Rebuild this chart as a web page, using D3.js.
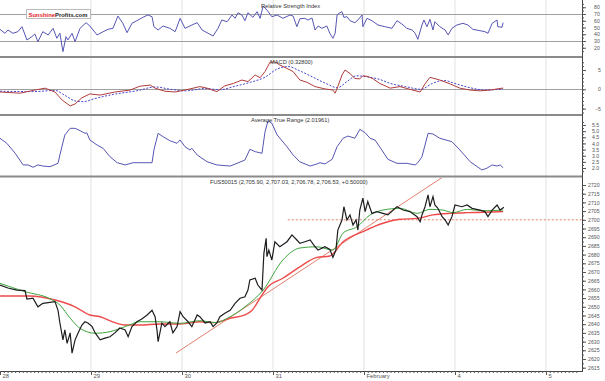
<!DOCTYPE html>
<html><head><meta charset="utf-8">
<script src="https://cdn.jsdelivr.net/npm/d3@7"></script>
<style>html,body{margin:0;padding:0;background:#fff;} svg{display:block;font-family:"Liberation Sans",Arial,sans-serif;}</style>
</head><body><svg id="c" width="605" height="381"></svg>
<script>
// ---------- DATA (time in hours from Jan 28 00:00) ----------
const dayLabels = ["28","29","30","31","February","4","5"];
const rsiTicks = [20,30,40,50,60,70,80];
const rsiLevels = [30,70];
const macdTicks = [-5,0,5];
const atrTicks = [2.0,2.5,3.0,3.5,4.0,4.5,5.0,5.5];
const priceTicks = d3.range(2615, 2721, 5);

const titleRSI = "Relative Strength Index";
const titleMACD = "MACD (0.32800)";
const titleATR = "Average True Range (2.01961)";
const titlePrice = "FUS50015 (2,705.90, 2,707.03, 2,706.78, 2,706.53, +0.50000)";

const price = [[0,2662.5],[2.1,2660.8],[4.5,2659.6],[6.6,2659.3],[7.1,2654.5],[8.7,2655],[10.0,2650],[11.3,2652],[12.7,2652.4],[14.5,2653],[15.3,2648],[15.8,2640.7],[16.6,2631],[17.1,2636.7],[17.7,2629],[18.5,2635],[19.0,2623.4],[19.8,2631],[20.6,2635],[21.6,2639.5],[22.4,2641.4],[23.2,2640.7],[24.3,2638.6],[25.1,2635],[26.4,2631],[27.7,2632],[29.0,2632.8],[30.3,2635],[31.6,2637.8],[33.0,2636.7],[33.8,2632.8],[34.8,2638.6],[36.1,2641.4],[37.4,2643],[38.8,2645.3],[40.1,2648],[40.9,2644.3],[41.4,2636.7],[41.7,2630],[42.7,2640.7],[43.5,2638.6],[44.8,2641.4],[45.6,2635],[46.7,2638.6],[47.5,2647.2],[48.3,2644.3],[49.6,2641.4],[50.6,2638.6],[52.0,2645.3],[52.7,2644.3],[54.1,2640.7],[55.4,2641.4],[56.2,2638.6],[57.2,2640.7],[58.0,2644.3],[59.3,2646.3],[60.7,2648],[62.0,2652],[63.3,2654.9],[64.6,2655.8],[65.4,2659.6],[65.9,2665.4],[67.3,2666.4],[68.0,2662.5],[69.1,2659.6],[69.6,2680.7],[70.2,2689.4],[70.4,2678.8],[70.9,2682.6],[71.7,2676.9],[72.5,2687.4],[73.8,2684.5],[75.7,2687.4],[77.0,2691.3],[78.3,2688.4],[79.1,2686.5],[80.4,2687.4],[81.8,2688.4],[83.1,2684.5],[83.9,2682.6],[85.7,2684.5],[87.0,2683],[87.8,2678.4],[88.6,2682.6],[89.1,2694.1],[90.2,2699.9],[90.7,2707.5],[91.5,2699.9],[92.3,2702.8],[93.1,2697],[93.9,2699.9],[94.4,2694.1],[94.9,2705.6],[95.7,2712.4],[96.3,2704.7],[97.0,2710.5],[98.1,2703.7],[99.4,2704.7],[101.0,2703.7],[102.3,2702.8],[104.7,2707.5],[106.3,2705.6],[108.1,2704.7],[110.0,2701.8],[110.8,2698.9],[111.3,2702.8],[112.1,2707.5],[112.9,2714.3],[113.4,2707.5],[114.2,2713.3],[114.7,2708.5],[115.5,2706.6],[116.6,2701.8],[117.4,2699.9],[118.2,2697],[119.2,2701.8],[120.0,2708.5],[121.8,2707.5],[123.2,2708.5],[124.5,2706.6],[126.6,2705.6],[127.9,2704.7],[128.7,2701.8],[129.8,2705.6],[131.1,2708.5],[131.9,2705.6],[132.9,2707.2]];

const maFast = [[0,2663.5],[6.6,2658.7],[13.2,2654.6],[15.8,2651],[18.5,2643.5],[21.1,2637.6],[25.1,2634.8],[29.0,2635.7],[33.0,2638.6],[36.9,2641.4],[42.2,2641.4],[47.5,2640.5],[52.7,2642],[56.7,2640.9],[60.7,2644.3],[64.6,2650],[69.4,2659.6],[74.6,2676.9],[79.1,2683.8],[83.6,2684.5],[87.8,2682.6],[90.5,2692.4],[94.2,2696],[97.6,2702.8],[101.0,2705.6],[105.5,2706.6],[110.0,2703.7],[113.4,2706],[116.8,2705.6],[119.5,2704.1],[123.2,2706],[127.4,2705.2],[132.7,2705.6]];

const maSlow = [[0,2656.2],[7.9,2656.2],[14.5,2653.9],[19.8,2650],[23.7,2645.3],[26.4,2644.3],[30.3,2640.9],[33.0,2639.5],[36.9,2639.5],[42.2,2640.1],[47.5,2640.1],[52.7,2641.4],[56.7,2640.9],[60.7,2643.4],[64.6,2645.3],[66.5,2648],[68.6,2655],[70.4,2660.8],[74.6,2666.4],[79.1,2673],[83.6,2678.4],[87.0,2679.2],[90.5,2687.4],[95.7,2693.2],[101.0,2698],[105.5,2700.3],[110.0,2700.8],[114.2,2702.8],[118.7,2703.7],[123.2,2704.1],[127.4,2704.3],[132.7,2704.7]];

const trendLine = [[46.4,2623.4],[116.8,2724.6]];
const supportLevel = 2700;
const supportFrom = 75.9;

const rsi = [[0,47.3],[1.3,41.4],[2.1,46.3],[3.4,41.4],[4.7,43.8],[5.8,51.2],[7.1,31.5],[8.4,36.4],[9.2,40.4],[10.0,29],[11.3,43.8],[12.7,38.9],[14.0,48.8],[15.0,34],[15.8,41.4],[16.6,14.2],[17.4,36.4],[17.9,31.5],[19.0,41.4],[19.8,29],[21.1,48.8],[22.7,57.1],[23.7,52.2],[25.6,38.9],[27.2,43.8],[28.5,47.3],[29.8,48.8],[31.1,67],[32.4,56.2],[33.5,42.3],[34.8,56.2],[36.1,60.1],[37.7,65.1],[39.0,68.5],[40.1,66],[40.6,51.2],[41.7,46.3],[43.0,52.2],[44.8,48.8],[46.2,43.8],[47.5,63.6],[48.8,48.8],[50.6,53.7],[52.0,57.1],[53.3,46.3],[54.9,41.4],[56.2,37.4],[57.5,48.8],[58.5,61.1],[59.9,58.6],[61.2,68.5],[62.0,63.6],[62.8,71.9],[63.8,68.5],[64.6,60.1],[65.4,71.9],[66.7,65.1],[67.8,73.4],[68.6,63.6],[69.4,81.9],[70.4,75.9],[71.7,66],[73.1,68.5],[74.6,63.6],[76.5,68.5],[77.3,67],[78.3,51.2],[79.1,63],[80.4,63.6],[81.2,61.1],[82.3,64],[83.1,46.3],[83.9,52.2],[84.9,48.8],[86.2,52.2],[87.0,41.4],[87.8,34],[88.4,41.4],[88.9,68.5],[89.4,71],[90.2,73.4],[90.7,65],[91.5,66],[92.3,60.1],[93.6,57.1],[94.4,61.1],[95.5,68.5],[95.7,51.2],[96.8,63.6],[98.1,60.1],[99.7,53.7],[101.5,51.2],[103.4,48.8],[104.7,60.1],[106.0,55.2],[107.3,48.8],[108.7,46.3],[109.5,41.4],[110.2,32.5],[111.3,53.7],[111.8,61.1],[112.6,51.2],[113.4,62.1],[114.2,46.3],[114.7,58.6],[116.0,51.2],[117.4,46.3],[118.2,38.9],[119.2,48.8],[120.5,53.7],[122.1,56.2],[123.4,53.7],[124.7,47.3],[126.6,45.3],[127.9,43.8],[128.7,41.4],[129.8,56.2],[131.1,61.1],[131.3,51.2],[132.4,50.3],[132.7,57.1]];

const macd = [[0,-0.7],[5.3,-1],[9.2,-0.2],[11.9,0.3],[14.5,-0.7],[16.4,-2.8],[18.5,-4.3],[19.8,-3.8],[21.6,-2.2],[23.7,-1.2],[26.4,-1.5],[30.3,-0.7],[34.3,-0.2],[36.9,0.8],[39.6,1.1],[40.9,0.3],[43.5,-0.5],[46.2,-0.7],[48.8,-0.2],[52.7,0.7],[54.6,0.3],[57.2,-0.6],[59.3,0.9],[61.5,1.5],[63.8,2.4],[65.4,2],[67.3,3.7],[68.6,3],[69.9,4.6],[71.2,7],[72.5,7.1],[73.8,6.3],[75.7,5.4],[77.3,4.6],[79.1,2.4],[81.0,1.8],[83.1,0.7],[85.7,0.1],[87.8,-0.2],[88.4,-1],[89.1,0.7],[90.2,3.7],[91.0,5],[92.3,4.1],[93.6,2.8],[94.9,2.7],[95.7,3.5],[97.1,3.3],[98.4,2.7],[100.2,1.5],[102.9,0.3],[105.5,0.7],[108.1,0],[110.8,-0.7],[112.1,1.4],[113.4,3.1],[116.0,2.4],[118.7,1.4],[121.3,0.3],[124.0,-0.2],[126.6,-0.4],[129.2,-0.2],[132.7,0.33]];

const macdSignal = [[0,-0.5],[9,-0.6],[14.5,-0.3],[17,-1.5],[19.8,-3.0],[22,-3.2],[25,-2.4],[30,-1.3],[36,-0.4],[41,0.6],[45,0],[49,-0.4],[54,0.2],[58,-0.1],[62,0.8],[66,1.8],[70,3.2],[73,5.2],[76,5.9],[79,4.8],[82,3.4],[86,1.5],[89,0.4],[91.5,2.0],[94,3.5],[97,3.2],[100,2.6],[103,1.5],[107,0.7],[111,0.0],[114,1.5],[117,2.3],[120,1.5],[124,0.4],[128,-0.2],[132.7,0.1]];

const atr = [[0,4.42],[1.8,4.01],[4.0,3.2],[6.1,2.25],[7.4,2.25],[8.7,2.06],[10.0,2.25],[11.3,2.16],[13.2,2.11],[15.3,2.38],[15.8,3.06],[17.1,4.69],[18.5,5.23],[19.8,5.23],[21.1,5.04],[22.4,4.82],[22.9,4.87],[23.7,4.28],[25.6,3.87],[27.2,3.6],[29.0,2.92],[30.9,2.43],[33.0,2.25],[35.1,2.43],[37.7,2.43],[40.1,2.43],[40.6,3.47],[41.7,4.82],[43.0,4.55],[44.8,4.22],[46.7,4.01],[47.5,4.28],[48.8,3.73],[50.1,3.47],[50.6,3.6],[52.0,3.06],[54.6,2.51],[57.2,2.25],[60.7,2.16],[62.5,2.38],[64.6,2.65],[65.9,3.52],[67.3,3.33],[69.1,3.2],[69.9,4.95],[70.7,5.85],[71.7,5.64],[73.1,4.69],[75.7,3.73],[77.3,3.06],[79.1,2.5],[81.8,2.16],[83.6,2.33],[84.4,2.43],[85.7,2.33],[87.6,2.71],[88.9,3.73],[90.5,4.42],[91.8,4.6],[93.6,4.42],[94.9,5.15],[96.3,4.87],[97.6,4.42],[98.9,4.28],[100.7,3.47],[102.3,2.71],[104.7,2.38],[107.3,2.38],[109.5,2.25],[110.2,2.43],[111.3,2.92],[112.9,4.82],[114.2,4.77],[116.0,4.42],[119.2,4.14],[121.3,3.47],[124.0,2.51],[127.1,1.84],[128.4,1.98],[129.8,2.25],[131.1,2.16],[131.9,2.25],[132.7,2.02]];

// ---------- LAYOUT ----------
const W = 605, H = 381, plotR = 582;
const panels = {
  rsi:  {top:0,   bot:57},
  macd: {top:57,  bot:115},
  atr:  {top:115, bot:176},
  main: {top:177, bot:371}
};
const svg = d3.select("#c");
const x = d3.scaleLinear().domain([0,153.5]).range([0,plotR]);
const yRsi = d3.scaleLinear().domain([30,70]).range([41,14]);
const yMacd = d3.scaleLinear().domain([-5,5]).range([108.6,70]);
const yAtr = d3.scaleLinear().domain([2.0,5.5]).range([168,125]);
const yMain = d3.scaleLinear().domain([2615,2720]).range([367.7,185]);

// clip paths
const defs = svg.append("defs");
Object.entries(panels).forEach(([k,p])=>{
  defs.append("clipPath").attr("id","clip-"+k).append("rect")
    .attr("x",0).attr("y",p.top+1).attr("width",plotR).attr("height",p.bot-p.top-1);
});

// vertical grid
const dayTicks = dayLabels.map((d,i)=>i*24);
svg.append("g").selectAll("line").data(dayTicks.filter(d=>d>0)).join("line")
  .attr("x1",d=>x(d)).attr("x2",d=>x(d)).attr("y1",0).attr("y2",panels.main.bot)
  .attr("stroke","#e2e2e2").attr("stroke-width",1);

// RSI levels, MACD zero
svg.append("g").selectAll("line").data(rsiLevels).join("line")
  .attr("x1",0).attr("x2",plotR).attr("y1",d=>Math.round(yRsi(d))+0.5).attr("y2",d=>Math.round(yRsi(d))+0.5)
  .attr("stroke","#a0a0a0");
svg.append("line").attr("x1",0).attr("x2",plotR).attr("y1",Math.round(yMacd(0))+0.5).attr("y2",Math.round(yMacd(0))+0.5)
  .attr("stroke","#a0a0a0");

// panel separators
svg.append("g").selectAll("line").data([57,115,176.5]).join("line")
  .attr("x1",0).attr("x2",plotR).attr("y1",d=>d).attr("y2",d=>d)
  .attr("stroke","#8a8a8a").attr("stroke-width",2);

const line = (ys)=>d3.line().x(d=>x(d[0])).y(d=>ys(d[1]));

// RSI
svg.append("path").datum(rsi).attr("clip-path","url(#clip-rsi)")
  .attr("d",line(yRsi)).attr("fill","none").attr("stroke","#5656b4").attr("stroke-width",1);

// MACD
svg.append("path").datum(macdSignal).attr("clip-path","url(#clip-macd)")
  .attr("d",line(yMacd).curve(d3.curveMonotoneX)).attr("fill","none").attr("stroke","#4646d2").attr("stroke-width",1).attr("stroke-dasharray","2,1.5");
svg.append("path").datum(macd).attr("clip-path","url(#clip-macd)")
  .attr("d",line(yMacd)).attr("fill","none").attr("stroke","#b23c3c").attr("stroke-width",1);

// ATR
svg.append("path").datum(atr).attr("clip-path","url(#clip-atr)")
  .attr("d",line(yAtr)).attr("fill","none").attr("stroke","#5656b4").attr("stroke-width",1);

// Main
const gm = svg.append("g").attr("clip-path","url(#clip-main)");
gm.append("line").attr("x1",x(supportFrom)).attr("x2",plotR)
  .attr("y1",yMain(supportLevel)).attr("y2",yMain(supportLevel))
  .attr("stroke","#e0806c").attr("stroke-width",1).attr("stroke-dasharray","2,2");
gm.append("path").datum(trendLine).attr("d",line(yMain)).attr("fill","none").attr("stroke","#e2806e").attr("stroke-width",1);
gm.append("path").datum(maSlow).attr("d",line(yMain).curve(d3.curveMonotoneX)).attr("fill","none").attr("stroke","#ee4a4a").attr("stroke-width",1.4);
gm.append("path").datum(maFast).attr("d",line(yMain).curve(d3.curveMonotoneX)).attr("fill","none").attr("stroke","#3ea53e").attr("stroke-width",1);
gm.append("path").datum(price).attr("d",line(yMain)).attr("fill","none").attr("stroke","#1e1e1e").attr("stroke-width",1.2);

// Right axes
const axisCol = "#555";
svg.append("line").attr("x1",plotR+0.5).attr("x2",plotR+0.5).attr("y1",0).attr("y2",panels.main.bot).attr("stroke","#444");
function rightAxis(scale, major, minor, fmt, pad, anchor){
  const g = svg.append("g").attr("transform",`translate(${plotR},0)`);
  g.call(d3.axisRight(scale).tickValues(minor).tickSize(2).tickFormat(""));
  const g2 = svg.append("g").attr("transform",`translate(${plotR},0)`);
  g2.call(d3.axisRight(scale).tickValues(major).tickSize(4).tickPadding(pad).tickFormat(fmt));
  [g,g2].forEach(gg=>{ gg.select(".domain").remove(); gg.selectAll("line").attr("stroke","#555"); });
  g2.selectAll("text").attr("fill",axisCol).attr("font-size","5.2px").attr("font-family","Liberation Sans, Arial, sans-serif");
  if(anchor) g2.selectAll("text").attr("text-anchor",anchor);
}
rightAxis(yRsi, rsiTicks, d3.range(15,86,5), d3.format("d"), 8, null);
rightAxis(yMacd, macdTicks, d3.range(-6,8,1), d3.format("d"), 15, "end");
rightAxis(yAtr, atrTicks, d3.range(1.75,5.9,0.25), d3.format(".1f"), 6, null);
rightAxis(yMain, priceTicks, d3.range(2615,2721,2.5), d3.format("d"), 2, null);

// Bottom axis
svg.append("line").attr("x1",0).attr("x2",plotR+1).attr("y1",panels.main.bot+0.5).attr("y2",panels.main.bot+0.5).attr("stroke","#444");
const gx1 = svg.append("g").attr("transform",`translate(0,${panels.main.bot})`)
  .call(d3.axisBottom(x).tickValues(d3.range(1,153,1)).tickSize(2).tickFormat(""));
const gx2 = svg.append("g").attr("transform",`translate(0,${panels.main.bot})`)
  .call(d3.axisBottom(x).tickValues(dayTicks).tickSize(4).tickPadding(1).tickFormat((d,i)=>dayLabels[i]));
[gx1,gx2].forEach(g=>{ g.select(".domain").remove(); g.selectAll("line").attr("stroke","#555"); });
gx2.selectAll("text").attr("text-anchor","start").attr("x",2).attr("y",3).attr("dy","0.71em")
  .attr("fill",axisCol).attr("font-size","5.8px").attr("font-family","Liberation Sans, Arial, sans-serif");

// Titles
const tcol = "#333";
svg.append("text").attr("x",261).attr("y",7.5).text(titleRSI).attr("font-size","5.7px").attr("fill",tcol);
svg.append("text").attr("x",270).attr("y",64).text(titleMACD).attr("font-size","5.7px").attr("fill",tcol);
svg.append("text").attr("x",251).attr("y",121.5).text(titleATR).attr("font-size","5.7px").attr("fill",tcol);
svg.append("text").attr("x",210).attr("y",183.8).text(titlePrice).attr("font-size","5.7px").attr("fill",tcol);

// Logo
const logo = svg.append("g");
logo.append("rect").attr("x",26.5).attr("y",9.5).attr("width",64).attr("height",9).attr("fill","#fff").attr("stroke","#bbb");
const lt = logo.append("text").attr("x",28.5).attr("y",16.5).attr("font-size","5.9px").attr("font-weight","bold");
lt.append("tspan").text("Sunshine").attr("fill","#e0242c");
lt.append("tspan").text("Profits.com").attr("fill","#222");
</script></body></html>
